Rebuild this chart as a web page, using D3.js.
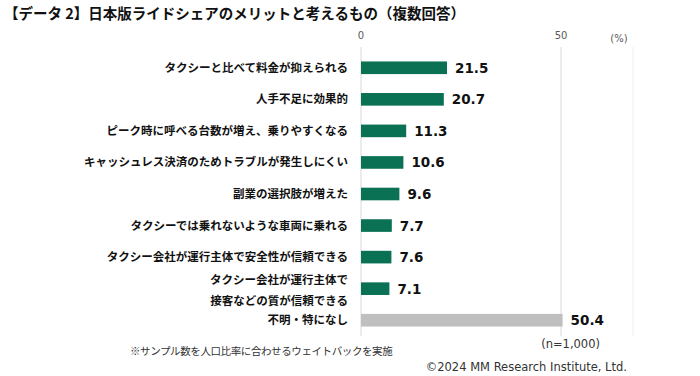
<!DOCTYPE html>
<html><head><meta charset="utf-8">
<script src="https://cdn.jsdelivr.net/npm/d3@7"></script>
<style>
body{margin:0;background:#fff;}
svg{display:block;font-family:"Noto Sans CJK JP","Noto Sans",sans-serif;}
</style></head><body>
<svg id="c" width="700" height="376"></svg>
<script>
const categories = [
  ["タクシーと比べて料金が抑えられる"],
  ["人手不足に効果的"],
  ["ピーク時に呼べる台数が増え、乗りやすくなる"],
  ["キャッシュレス決済のためトラブルが発生しにくい"],
  ["副業の選択肢が増えた"],
  ["タクシーでは乗れないような車両に乗れる"],
  ["タクシー会社が運行主体で安全性が信頼できる"],
  ["タクシー会社が運行主体で","接客などの質が信頼できる"],
  ["不明・特になし"]
];
const values = [21.5, 20.7, 11.3, 10.6, 9.6, 7.7, 7.6, 7.1, 50.4];
const tickValues = [0, 50];
const titleText = "【データ 2】日本版ライドシェアのメリットと考えるもの（複数回答）";
const noteText = "※サンプル数を人口比率に合わせるウェイトバックを実施";
const nText = "(n=1,000)";
const copyText = "©2024 MM Research Institute, Ltd.";

const svg = d3.select("#c");
const x = d3.scaleLinear().domain([0, 68]).range([361, 633]);
const y = d3.scaleBand().domain(d3.range(values.length)).range([52, 336]).paddingInner(0.6).paddingOuter(0.3);

svg.append("text").attr("x", 4).attr("y", 19).attr("font-size", 14.5).attr("font-weight", 700).attr("fill", "#111").text(titleText);

// gridlines
svg.selectAll("line.g").data(tickValues).join("line")
  .attr("x1", d => x(d)).attr("x2", d => x(d)).attr("y1", 47).attr("y2", 336)
  .attr("stroke", "#d9d9d9").attr("stroke-width", 1);
svg.append("line").attr("x1", x(68)).attr("x2", x(68)).attr("y1", 47).attr("y2", 336).attr("stroke", "#eeeeee");

svg.selectAll("text.tick").data(tickValues).join("text")
  .attr("x", d => x(d)).attr("y", 39).attr("text-anchor", "middle")
  .attr("font-size", 10).attr("fill", "#595959").attr("font-family", "Verdana, 'DejaVu Sans', sans-serif").text(d => d);
svg.append("text").attr("x", 619).attr("y", 42).attr("text-anchor", "middle")
  .attr("font-size", 10).attr("fill", "#595959").attr("font-family", "Verdana, 'DejaVu Sans', sans-serif").text("(%)");

svg.selectAll("rect.bar").data(values).join("rect")
  .attr("x", x(0)).attr("y", (d, i) => y(i)).attr("width", d => x(d) - x(0)).attr("height", y.bandwidth())
  .attr("fill", (d, i) => i === values.length - 1 ? "#bfbfbf" : "#0b7155");

svg.selectAll("text.val").data(values).join("text")
  .attr("x", d => x(d) + 8).attr("y", (d, i) => y(i) + y.bandwidth() / 2 + 5)
  .attr("font-size", 13.5).attr("font-weight", 700).attr("fill", "#111")
  .attr("font-family", "Verdana, 'DejaVu Sans', sans-serif").text(d => d.toFixed(1));

categories.forEach((lines, i) => {
  const cy = y(i) + y.bandwidth() / 2;
  const n = lines.length;
  const t = svg.append("text").attr("text-anchor", "end").attr("x", 348)
    .attr("font-size", 11.5).attr("font-weight", 700).attr("fill", "#111");
  lines.forEach((s, j) => {
    t.append("tspan").attr("x", 348).attr("y", cy + 4 + (n > 1 ? 2 : 0) + (j - (n - 1) / 2) * 21).text(s);
  });
});

svg.append("text").attr("x", 130).attr("y", 355).attr("font-size", 10.5).attr("letter-spacing", -0.4).attr("fill", "#333").text(noteText);
svg.append("text").attr("x", 600).attr("y", 348).attr("text-anchor", "end").attr("font-size", 11.5).attr("fill", "#333")
  .attr("font-family", "Verdana, 'DejaVu Sans', sans-serif").text(nText);
svg.append("text").attr("x", 627).attr("y", 371).attr("text-anchor", "end").attr("font-size", 11.5).attr("fill", "#333")
  .attr("font-family", "Verdana, 'DejaVu Sans', sans-serif").text(copyText);
</script>
</body></html>
